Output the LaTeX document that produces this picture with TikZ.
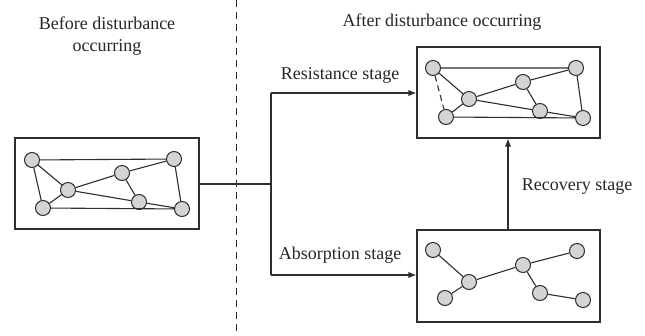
\documentclass[tikz,border=0pt]{standalone}
\usepackage{fontspec}
\setmainfont{Liberation Serif}
\usetikzlibrary{arrows.meta}
\definecolor{ln}{HTML}{2E2E2E}
\definecolor{nd}{HTML}{D4D4D4}
\tikzset{
  vtx/.style={circle,draw=ln,fill=nd,line width=1pt,minimum size=15pt,inner sep=0pt},
  edge/.style={draw=ln,line width=1.1pt},
  frame/.style={draw=ln,line width=1.2pt,fill=white},
  conn/.style={draw=ln,line width=1.2pt},
  arr/.style={conn,-{Latex[length=8pt,width=6.5pt]}},
  lbl/.style={font=\fontsize{18}{22}\selectfont,text=black!85,align=center,inner sep=0pt}
}
\begin{document}
\begin{tikzpicture}[x=1pt,y=-1pt]
\useasboundingbox (0,0) rectangle (645,336);
% dashed divider
\coordinate (dt) at (236,0);
\coordinate (db) at (236,336);
\draw[ln,line width=1pt,dash pattern=on 7pt off 5pt] (dt) -- (db);
% titles
\node[lbl] (tb) at (107,36) {Before disturbance\\occurring};
\node[lbl] (ta) at (442,22) {After disturbance occurring};
% boxes
\node[frame,minimum width=184pt,minimum height=91pt,inner sep=0pt] (L) at (107,183.5) {};
\node[frame,minimum width=183pt,minimum height=91pt,inner sep=0pt] (T) at (508.5,92.5) {};
\node[frame,minimum width=183pt,minimum height=92pt,inner sep=0pt] (B) at (508.5,276) {};
% left network
\node[vtx] (n1) at (32,160) {};
\node[vtx] (n2) at (174,159) {};
\node[vtx] (n3) at (122,173) {};
\node[vtx] (n4) at (68,190) {};
\node[vtx] (n5) at (43,208) {};
\node[vtx] (n6) at (139,202) {};
\node[vtx] (n7) at (182,209) {};
\path[edge] (n1)--(n2) (n1)--(n4) (n1)--(n5) (n4)--(n5) (n4)--(n3) (n3)--(n2)
  (n3)--(n6) (n4)--(n6) (n6)--(n7) (n2)--(n7) (n5)--(n7);
% top-right network
\node[vtx] (m1) at (433,68) {};
\node[vtx] (m2) at (576,68) {};
\node[vtx] (m3) at (523,82) {};
\node[vtx] (m4) at (469,99) {};
\node[vtx] (m5) at (446,117) {};
\node[vtx] (m6) at (540,111) {};
\node[vtx] (m7) at (583,118) {};
\path[edge] (m1)--(m2) (m1)--(m4) (m4)--(m5) (m4)--(m3) (m3)--(m2)
  (m3)--(m6) (m4)--(m6) (m6)--(m7) (m2)--(m7) (m5)--(m7);
\path[edge,dash pattern=on 6pt off 4pt] (m1)--(m5);
% bottom-right network
\node[vtx] (b1) at (433,250) {};
\node[vtx] (b2) at (577,251) {};
\node[vtx] (b3) at (523,265) {};
\node[vtx] (b4) at (469,282) {};
\node[vtx] (b5) at (445,298) {};
\node[vtx] (b6) at (540,293) {};
\node[vtx] (b7) at (583,300) {};
\path[edge] (b1)--(b4) (b4)--(b5) (b4)--(b3) (b3)--(b2) (b3)--(b6) (b6)--(b7);
% connectors
\coordinate (j) at (271,184);
\coordinate (jt) at (271,93);
\coordinate (jb) at (271,275);
\draw[conn] (L.east |- j) -- (j);
\draw[conn] (jt) -- (jb);
\draw[arr] (jt) -- (T.west |- jt);
\draw[arr] (jb) -- (B.west |- jb);
\draw[arr] (B.north -| 508,0) -- (T.south -| 508,0);
% labels
\node[lbl] (lr) at (340,75) {Resistance stage};
\node[lbl] (la) at (340,255) {Absorption stage};
\node[lbl] (lc) at (577,187) {Recovery stage};
\end{tikzpicture}
\end{document}
